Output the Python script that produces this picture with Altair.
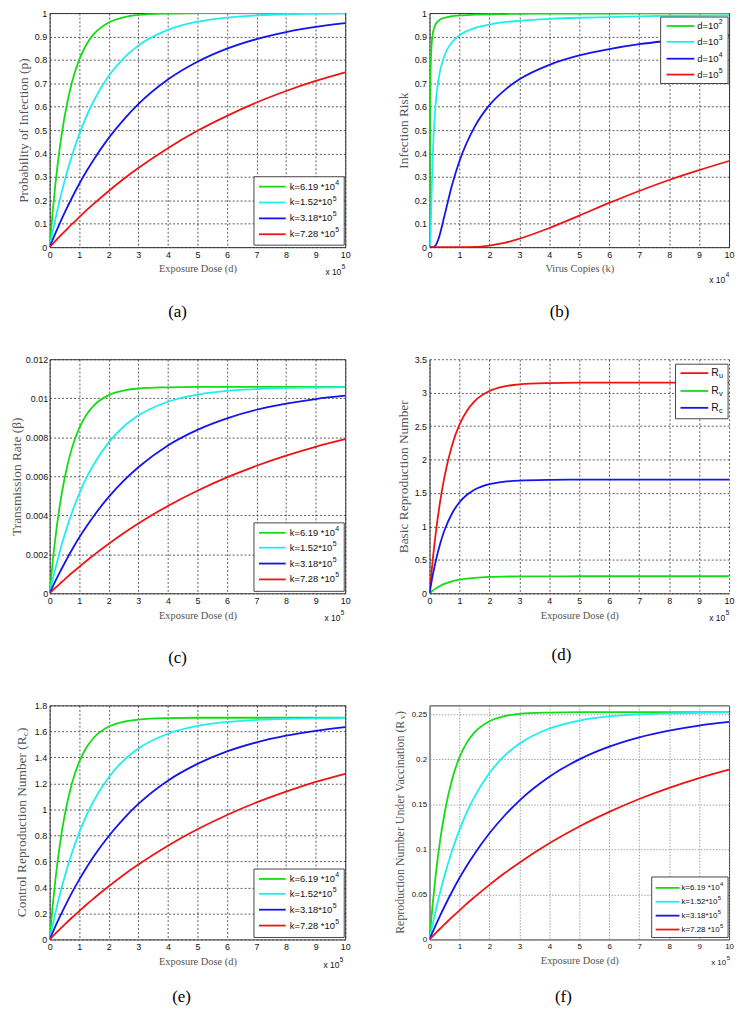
import altair as alt
import pandas as pd

# ---------------- colours ----------------
GREEN, CYAN, BLUE, RED = "#14dc14", "#1eeeee", "#1414ee", "#ee1414"

# ---------------- data ----------------
# Exposure dose axis (units of 1e5)
DOSE = [0, 0.1, 0.2, 0.35, 0.5, 0.75, 1, 1.25, 1.5, 2, 2.5, 3, 4, 5, 6, 7, 8, 9, 10]
K_SERIES = ["k=6.19e4", "k=1.52e5", "k=3.18e5", "k=7.28e5"]
K_LEGEND = [("k=6.19 *10", "4"), ("k=1.52*10", "5"), ("k=3.18*10", "5"), ("k=7.28 *10", "5")]
K_COLORS = [GREEN, CYAN, BLUE, RED]

# (a) probability of infection
A_G = [0, 0.149, 0.276, 0.432, 0.554, 0.702, 0.801, 0.867, 0.911, 0.960, 0.982, 0.992, 0.998, 1.0, 1.0, 1.0, 1.0, 1.0, 1.0]
A_C = [0, 0.064, 0.123, 0.206, 0.280, 0.389, 0.482, 0.561, 0.627, 0.732, 0.807, 0.861, 0.928, 0.963, 0.981, 0.990, 0.995, 0.997, 0.999]
A_B = [0, 0.031, 0.061, 0.104, 0.145, 0.210, 0.270, 0.325, 0.376, 0.467, 0.544, 0.611, 0.716, 0.792, 0.848, 0.889, 0.919, 0.941, 0.957]
A_R = [0, 0.014, 0.027, 0.047, 0.066, 0.098, 0.128, 0.158, 0.186, 0.240, 0.291, 0.338, 0.423, 0.497, 0.561, 0.618, 0.667, 0.710, 0.747]

# (b) infection risk vs virus copies (units of 1e4)
COPIES = [0, 0.005, 0.01, 0.02, 0.05, 0.1, 0.2, 0.3, 0.5, 0.75, 1, 1.5, 2, 2.5, 3, 4, 5, 6, 7, 8, 9, 10]
D_SERIES = ["d=1e2", "d=1e3", "d=1e4", "d=1e5"]
D_LEGEND = [("d=10", "2"), ("d=10", "3"), ("d=10", "4"), ("d=10", "5")]
B_G = [0, 0.135, 0.368, 0.607, 0.819, 0.905, 0.951, 0.967, 0.980, 0.987, 0.990, 0.993, 0.995, 0.996, 0.997, 0.9975, 0.998, 0.998, 0.999, 0.999, 0.999, 0.999]
B_C = [0, 0, 0, 0.007, 0.135, 0.368, 0.607, 0.717, 0.819, 0.875, 0.905, 0.936, 0.951, 0.961, 0.967, 0.975, 0.980, 0.983, 0.986, 0.988, 0.989, 0.990]
B_B = [0, 0, 0, 0, 0, 0, 0.007, 0.036, 0.135, 0.264, 0.368, 0.513, 0.607, 0.670, 0.717, 0.779, 0.819, 0.846, 0.867, 0.882, 0.895, 0.905]
B_R = [0, 0, 0, 0, 0, 0, 0, 0, 0, 0, 0, 0.001, 0.007, 0.018, 0.036, 0.082, 0.135, 0.189, 0.240, 0.287, 0.329, 0.368]

# (c) transmission rate
C_G = [0, 0.00158, 0.00292, 0.00457, 0.00586, 0.00743, 0.00847, 0.00917, 0.00964, 0.01016, 0.01039, 0.01050, 0.01056, 0.01058, 0.01058, 0.01058, 0.01058, 0.01058, 0.01058]
C_C = [0, 0.00068, 0.00130, 0.00218, 0.00296, 0.00412, 0.00510, 0.00594, 0.00663, 0.00774, 0.00854, 0.00911, 0.00982, 0.01019, 0.01038, 0.01047, 0.01053, 0.01055, 0.01057]
C_B = [0, 0.00033, 0.00065, 0.00110, 0.00153, 0.00222, 0.00286, 0.00344, 0.00398, 0.00494, 0.00576, 0.00646, 0.00758, 0.00838, 0.00897, 0.00941, 0.00972, 0.00996, 0.01013]
C_R = [0, 0.00015, 0.00029, 0.00050, 0.00070, 0.00104, 0.00135, 0.00167, 0.00197, 0.00254, 0.00308, 0.00358, 0.00448, 0.00526, 0.00594, 0.00654, 0.00706, 0.00751, 0.00790]

# (d) basic reproduction numbers
R_SERIES = ["Ru", "Rv", "Rc"]
R_LEGEND = [("R", "u"), ("R", "v"), ("R", "c")]
R_COLORS = [RED, GREEN, BLUE]
D_RU = [0, 0.469, 0.869, 1.361, 1.745, 2.211, 2.523, 2.731, 2.870, 3.024, 3.093, 3.125, 3.144, 3.150, 3.150, 3.150, 3.150, 3.150, 3.150]
D_RV = [0, 0.038, 0.070, 0.110, 0.141, 0.179, 0.204, 0.221, 0.232, 0.245, 0.250, 0.253, 0.254, 0.255, 0.255, 0.255, 0.255, 0.255, 0.255]
D_RC = [0, 0.253, 0.469, 0.734, 0.942, 1.193, 1.362, 1.474, 1.549, 1.632, 1.669, 1.686, 1.697, 1.700, 1.700, 1.700, 1.700, 1.700, 1.700]

# (e) control reproduction number
E_G = [0, 0.254, 0.471, 0.737, 0.945, 1.197, 1.366, 1.478, 1.553, 1.637, 1.674, 1.691, 1.702, 1.705, 1.705, 1.705, 1.705, 1.705, 1.705]
E_C = [0, 0.109, 0.210, 0.351, 0.477, 0.663, 0.822, 0.957, 1.069, 1.248, 1.376, 1.468, 1.582, 1.642, 1.673, 1.688, 1.696, 1.700, 1.703]
E_B = [0, 0.053, 0.104, 0.177, 0.247, 0.358, 0.460, 0.554, 0.641, 0.796, 0.928, 1.042, 1.221, 1.350, 1.446, 1.516, 1.567, 1.604, 1.632]
E_R = [0, 0.024, 0.046, 0.080, 0.113, 0.167, 0.218, 0.269, 0.317, 0.409, 0.496, 0.576, 0.721, 0.847, 0.957, 1.054, 1.137, 1.211, 1.274]

# (f) reproduction number under vaccination
F_G = [0, 0.0376, 0.0697, 0.1091, 0.1399, 0.1773, 0.2023, 0.2189, 0.2300, 0.2424, 0.2480, 0.2505, 0.2520, 0.2525, 0.2525, 0.2525, 0.2525, 0.2525, 0.2525]
F_C = [0, 0.0162, 0.0311, 0.0520, 0.0707, 0.0982, 0.1217, 0.1417, 0.1583, 0.1848, 0.2038, 0.2174, 0.2343, 0.2432, 0.2477, 0.2500, 0.2512, 0.2517, 0.2522]
F_B = [0, 0.0078, 0.0154, 0.0263, 0.0366, 0.0530, 0.0682, 0.0821, 0.0949, 0.1179, 0.1374, 0.1543, 0.1808, 0.2000, 0.2141, 0.2245, 0.2320, 0.2376, 0.2416]
F_R = [0, 0.0035, 0.0068, 0.0119, 0.0167, 0.0247, 0.0323, 0.0399, 0.0470, 0.0606, 0.0735, 0.0853, 0.1068, 0.1255, 0.1417, 0.1560, 0.1684, 0.1793, 0.1886]

# tick labels
X_TICKS = [0, 1, 2, 3, 4, 5, 6, 7, 8, 9, 10]
Y_TICKS_A = [0, 0.1, 0.2, 0.3, 0.4, 0.5, 0.6, 0.7, 0.8, 0.9, 1]
Y_TICKS_C = [0, 0.002, 0.004, 0.006, 0.008, 0.01, 0.012]
Y_TICKS_D = [0, 0.5, 1, 1.5, 2, 2.5, 3, 3.5]
Y_TICKS_E = [0, 0.2, 0.4, 0.6, 0.8, 1, 1.2, 1.4, 1.6, 1.8]
Y_TICKS_F = [0, 0.05, 0.1, 0.15, 0.2, 0.25]

# ---------------- helpers ----------------
SANS = "Liberation Sans"
SERIF = "Liberation Serif"
TITLE_C = "#555555"
ONE = pd.DataFrame({"v": [0]})

ARIAL = {"k": 500, "=": 584, ".": 278, " ": 278, "*": 389, "d": 556, "R": 722, "x": 500}
TIMES = {" ": 250, "(": 333, ")": 333, "C": 667, "N": 722, "R": 667, "U": 722, "V": 722,
         "a": 444, "b": 500, "c": 444, "d": 500, "e": 444, "i": 278, "l": 278, "m": 778,
         "n": 500, "o": 500, "p": 500, "r": 333, "s": 389, "t": 278, "u": 500, "v": 500}


def tw(s, size, table):
    return sum(table.get(c, 556) for c in s) * size / 1000.0


def long_df(x, ys, names):
    rows = []
    for name, y in zip(names, ys):
        for xi, yi in zip(x, y):
            rows.append({"x": xi, "y": yi, "s": name})
    return pd.DataFrame(rows)


def txt(s, x, y, size, font=SANS, color="#111111", align="left", angle=0, dy=0):
    kw = dict(font=font, fontSize=size, color=color, align=align, baseline="middle")
    if angle:
        kw["angle"] = angle
    if dy:
        kw["dy"] = dy
    return alt.Chart(ONE).mark_text(**kw).encode(x=alt.value(x), y=alt.value(y), text=alt.value(s))


def legend(box, rows_y, line_x, text_x, items, colors, size, sup_size, sup_dy):
    layers = [alt.Chart(ONE).mark_rect(fill="white", stroke="#333333", strokeWidth=0.9).encode(
        x=alt.value(box[0]), x2=alt.value(box[1]), y=alt.value(box[2]), y2=alt.value(box[3]))]
    for (base, sup), col, ry in zip(items, colors, rows_y):
        layers.append(alt.Chart(ONE).mark_rule(color=col, strokeWidth=1.8).encode(
            x=alt.value(line_x[0]), x2=alt.value(line_x[1]), y=alt.value(ry)))
        layers.append(txt(base, text_x, ry, size))
        layers.append(txt(sup, text_x + tw(base, size, ARIAL) + 0.3, ry, sup_size, dy=sup_dy))
    return layers


def rot_title(main, sub, tail, size, sub_size, x, H):
    w_main = tw(main, size, TIMES)
    w_sub = tw(sub, sub_size, TIMES)
    w_tail = tw(tail, size, TIMES)
    y0 = H / 2 + (w_main + w_sub + w_tail) / 2
    return [txt(main, x, y0, size, font=SERIF, color=TITLE_C, angle=270),
            txt(sub, x, y0 - w_main, sub_size, font=SERIF, color=TITLE_C, angle=270, dy=3),
            txt(tail, x, y0 - w_main - w_sub, size, font=SERIF, color=TITLE_C, angle=270)]


def exponent(sup, W, H, dx, dy, size=8.5):
    x0 = W + dx
    return [txt("x 10", x0, H + dy, size),
            txt(sup, x0 + tw("x 10", size, ARIAL) + 0.5, H + dy - 5, size * 0.75)]


def panel(df, names, colors, W, H, xdom, ydom, yticks, yfmt, xtitle, ytitle, decor,
          grid_color="#333333", grid_dash=(2, 2), label_size=9, domain=False,
          y_label_pad=3, y_title_pad=4):
    ax_common = dict(gridColor=grid_color, gridDash=list(grid_dash), labelFontSize=label_size)
    if domain:
        ax_common.update(domain=True, domainColor="#333333", domainWidth=1)
    if ytitle:
        yaxis = alt.Axis(values=yticks, format=yfmt, title=ytitle, labelPadding=y_label_pad,
                         titlePadding=y_title_pad, **ax_common)
    else:
        yaxis = alt.Axis(values=yticks, format=yfmt, title=None, labelPadding=y_label_pad, **ax_common)
    lines = alt.Chart(df).mark_line(interpolate="monotone", strokeWidth=1.8, clip=True).encode(
        x=alt.X("x:Q", scale=alt.Scale(domain=xdom, nice=False, zero=False),
                axis=alt.Axis(values=X_TICKS, format="d", title=xtitle, **ax_common)),
        y=alt.Y("y:Q", scale=alt.Scale(domain=ydom, nice=False), axis=yaxis),
        color=alt.Color("s:N", scale=alt.Scale(domain=names, range=colors), legend=None),
    )
    return alt.layer(lines, *decor).properties(width=W, height=H)


WL, WR, H = 298, 302, 236

# ---- (a)
W = WL
pa = panel(long_df(DOSE, [A_G, A_C, A_B, A_R], K_SERIES), K_SERIES, K_COLORS, W, H,
           [0, 10], [0, 1], Y_TICKS_A, ".1~f", "Exposure Dose (d)", "Probability of Infection (p)",
           legend([W - 92, W - 1, H - 71, H - 2], [H - 61, H - 45, H - 29, H - 13],
                  [W - 87, W - 60], W - 56, K_LEGEND, K_COLORS, 9.5, 7, -4)
           + exponent("5", W, H, -20, 25)
           + [txt("(a)", W / 2 - 20, H + 65, 17, font=SERIF, color="#000000", align="center")])

# ---- (b)
W = WR
pb = panel(long_df(COPIES, [B_G, B_C, B_B, B_R], D_SERIES), D_SERIES, K_COLORS, W, H,
           [0, 10], [0, 1], Y_TICKS_A, ".1~f", "Virus Copies (k)", "Infection Risk",
           legend([W - 69, W - 1, 4, 71], [13, 29, 46, 62],
                  [W - 63, W - 35], W - 32, D_LEGEND, K_COLORS, 9.5, 7, -4)
           + exponent("4", W, H, -20, 33)
           + [txt("(b)", W / 2 - 20, H + 65, 17, font=SERIF, color="#000000", align="center")])

# ---- (c)
W = WL
pc = panel(long_df(DOSE, [C_G, C_C, C_B, C_R], K_SERIES), K_SERIES, K_COLORS, W, H,
           [0, 10], [0, 0.012], Y_TICKS_C, ".3~f", "Exposure Dose (d)", "Transmission Rate (β)",
           legend([W - 92, W - 1, H - 71, H - 2], [H - 61, H - 46, H - 30, H - 14],
                  [W - 87, W - 60], W - 56, K_LEGEND, K_COLORS, 9.5, 7, -4)
           + exponent("5", W, H, -21, 25)
           + [txt("(c)", W / 2 - 20, H + 65, 17, font=SERIF, color="#000000", align="center")],
           y_label_pad=2, y_title_pad=2)

# ---- (d)
W = WR
pd_ = panel(long_df(DOSE, [D_RU, D_RV, D_RC], R_SERIES), R_SERIES, R_COLORS, W, H,
            [0, 10], [0, 3.5], Y_TICKS_D, ".1~f", "Exposure Dose (d)", "Basic Reproduction Number",
            legend([W - 54, W - 1, 5, 60], [14, 32, 49],
                   [W - 49, W - 21], W - 18, R_LEGEND, R_COLORS, 10.5, 7.5, 3)
            + exponent("5", W, H, -20, 25)
            + [txt("(d)", W / 2 - 18, H + 62, 17, font=SERIF, color="#000000", align="center")],
            domain=True).properties(view=alt.ViewBackground(stroke="transparent"))

# ---- (e)
W = WL
pe = panel(long_df(DOSE, [E_G, E_C, E_B, E_R], K_SERIES), K_SERIES, K_COLORS, W, H,
           [0, 10], [0, 1.8], Y_TICKS_E, ".1~f", "Exposure Dose (d)", "",
           legend([W - 92, W - 1, H - 71, H - 2], [H - 61, H - 46, H - 30, H - 14],
                  [W - 87, W - 60], W - 56, K_LEGEND, K_COLORS, 9.5, 7, -4)
           + rot_title("Control Reproduction Number (R", "c", ")", 13.5, 9, -28, H)
           + exponent("5", W, H, -22, 26)
           + [txt("(e)", W / 2 - 16, H + 58, 17, font=SERIF, color="#000000", align="center")])

# ---- (f)
W = WR
pf = panel(long_df(DOSE, [F_G, F_C, F_B, F_R], K_SERIES), K_SERIES, K_COLORS, W, H,
           [0, 10], [0, 0.26], Y_TICKS_F, ".2~f", "Exposure Dose (d)", "",
           legend([W - 78, W - 1, H - 63, H - 2], [H - 52, H - 38, H - 24, H - 10],
                  [W - 74, W - 50], W - 48, K_LEGEND, K_COLORS, 8, 6, -3.5)
           + rot_title("Reproduction Number Under Vaccination (R", "v", ")", 12, 8, -30, H)
           + exponent("5", W, H, -18, 24, size=8)
           + [txt("(f)", W / 2 - 16, H + 58, 17, font=SERIF, color="#000000", align="center")],
           grid_color="#8a8a8a", grid_dash=(1.5, 1.5), label_size=8)

chart = alt.concat(pa, pb, pc, pd_, pe, pf, columns=2, bounds="flush",
                   spacing=alt.RowColnumber(row=113, column=85)).resolve_scale(
    x="independent", y="independent", color="independent"
).properties(
    padding={"left": 0, "top": -4, "right": 2, "bottom": 0}, background="white"
).configure_view(
    stroke="#333333", strokeWidth=1
).configure_axis(
    grid=True, gridWidth=0.8, gridOpacity=1, domain=False, ticks=False,
    labelFont=SANS, labelColor="#111111", labelPadding=3, labelFlush=False, labelOverlap=False,
    titleFont=SERIF, titleFontWeight="normal", titleColor=TITLE_C
).configure_axisX(
    titleFontSize=10.5, titlePadding=5
).configure_axisY(
    titleFontSize=13.5, titlePadding=4
)

chart.save("out.html", embed_options={"renderer": "svg", "actions": False})
